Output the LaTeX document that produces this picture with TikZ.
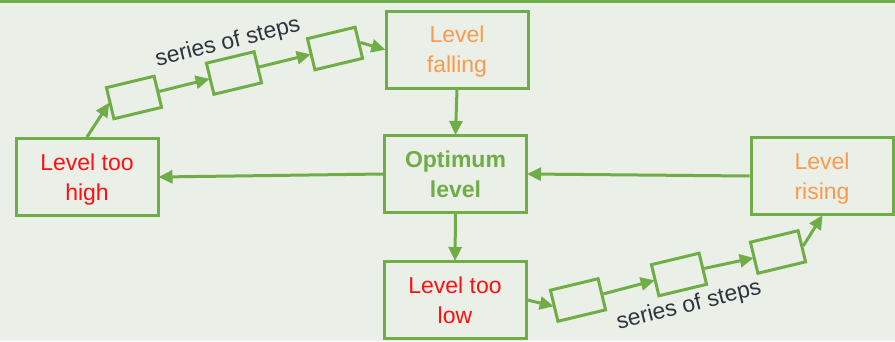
\documentclass[tikz,border=0pt]{standalone}
\usepackage{fontspec}
\setmainfont{Liberation Sans}
\usetikzlibrary{arrows.meta}
\definecolor{leafgreen}{HTML}{70AD47}
\definecolor{paper}{HTML}{EAF0E8}
\definecolor{hotred}{HTML}{FF1010}
\definecolor{warmorange}{HTML}{FA9A4C}
\definecolor{inkgrey}{HTML}{2E3440}
\tikzset{
  bigbox/.style={draw=leafgreen, line width=3pt, minimum width=142pt, minimum height=77pt,
    inner sep=0pt, align=center, text depth=0pt, font=\fontsize{23}{30}\selectfont},
  stepbox/.style={draw=leafgreen, line width=3pt, minimum width=49pt, minimum height=32pt,
    inner sep=0pt, rotate=13.5},
  flow/.style={draw=leafgreen, line width=3pt, -{Triangle[length=14pt,width=13pt]}, shorten >=-1pt},
  steplabel/.style={text=inkgrey, font=\fontsize{23}{28}\selectfont, rotate=14, inner sep=0pt}
}
\begin{document}
\begin{tikzpicture}[x=1pt, y=-1pt]
  \useasboundingbox (0,0) rectangle (895,341);
  \fill[paper] (0,0) rectangle (895,341);
  \fill[leafgreen] (0,0) rectangle (895,2.5);

  % main states
  \node[bigbox, text=warmorange] (falling) at (457,49.5) {Level\\falling};
  \node[bigbox, text=leafgreen, font=\fontsize{23}{30}\selectfont\bfseries] (optimum) at (455.5,174) {Optimum\\level};
  \node[bigbox, text=hotred] (high) at (87,177) {Level too\\high};
  \node[bigbox, text=warmorange] (rising) at (822,176) {Level\\rising};
  \node[bigbox, text=hotred] (low) at (455,300) {Level too\\low};

  % upper chain of steps
  \node[stepbox] (b1) at (134,97.5) {};
  \node[stepbox] (b2) at (234,73) {};
  \node[stepbox] (b3) at (335,48.5) {};
  \node[steplabel] (upper) at (228,43) {series of steps};

  % lower chain of steps
  \node[stepbox] (b4) at (578,300) {};
  \node[stepbox] (b5) at (679,274.5) {};
  \node[stepbox] (b6) at (778,252) {};
  \node[steplabel] (lower) at (689,306) {series of steps};

  % connectors
  \draw[flow] (falling.south) -- (optimum.north);
  \draw[flow] (optimum.west) -- (high.east);
  \draw[flow] (rising.west) -- (optimum.east);
  \draw[flow] (optimum.south) -- (low.north);
  \draw[flow] (high.north) -- (b1.west);
  \draw[flow] (b1.east) -- (b2.west);
  \draw[flow] (b2.east) -- (b3.west);
  \draw[flow] (b3.east) -- (falling.west);
  \draw[flow] (low.east) -- (b4.west);
  \draw[flow] (b4.east) -- (b5.west);
  \draw[flow] (b5.east) -- (b6.west);
  \draw[flow] (b6.east) -- (rising.south);
\end{tikzpicture}
\end{document}
